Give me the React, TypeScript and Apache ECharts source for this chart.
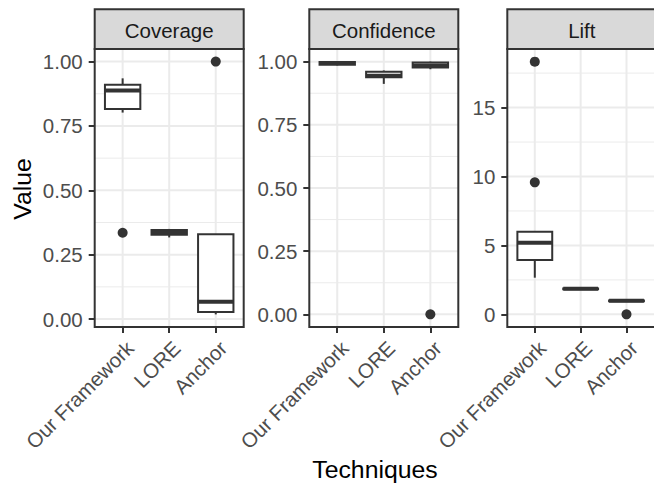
import React, { useEffect, useRef } from "react";
import * as echarts from "echarts";

const techniques = ["Our Framework", "LORE", "Anchor"];
const metrics = ["Coverage", "Confidence", "Lift"];

// Each box: [lowerWhisker, Q1, median, Q3, upperWhisker], one per technique
const coverageBoxes = [
  [0.802, 0.816, 0.888, 0.91, 0.935],
  [0.317, 0.327, 0.336, 0.346, 0.35],
  [0.018, 0.027, 0.067, 0.329, 0.329],
];
const coverageOutliers = [
  [0, 0.335],
  [2, 1.0],
];
const confidenceBoxes = [
  [0.985, 0.988, 0.995, 0.999, 1.0],
  [0.912, 0.938, 0.944, 0.96, 0.965],
  [0.97, 0.977, 0.985, 0.997, 1.0],
];
const confidenceOutliers = [[2, 0]];
const liftBoxes = [
  [2.66, 3.95, 5.2, 6.0, 6.0],
  [1.82, 1.83, 1.85, 1.87, 1.88],
  [0.96, 0.96, 0.98, 1.0, 1.0],
];
const liftOutliers = [
  [0, 9.58],
  [0, 18.33],
  [2, 0],
];

const coverageTicks = [0, 0.25, 0.5, 0.75, 1];
const coverageMinor = [0.125, 0.375, 0.625, 0.875];
const confidenceTicks = [0, 0.25, 0.5, 0.75, 1];
const confidenceMinor = [0.125, 0.375, 0.625, 0.875];
const liftTicks = [0, 5, 10, 15];
const liftMinor = [2.5, 7.5, 12.5, 17.5];
const coverageRange = [-0.031, 1.049];
const confidenceRange = [-0.05, 1.05];
const liftRange = [-0.917, 19.25];
const xRange = [-0.6, 2.6];
const xTicks = [0, 1, 2];

const panelsData = [
  { boxes: coverageBoxes, outliers: coverageOutliers, ticks: coverageTicks, minor: coverageMinor, range: coverageRange, fmt: (v: number) => v.toFixed(2) },
  { boxes: confidenceBoxes, outliers: confidenceOutliers, ticks: confidenceTicks, minor: confidenceMinor, range: confidenceRange, fmt: (v: number) => v.toFixed(2) },
  { boxes: liftBoxes, outliers: liftOutliers, ticks: liftTicks, minor: liftMinor, range: liftRange, fmt: (v: number) => String(v) },
];

// layout
const PANEL_LEFTS = [94.7, 309.3, 507.3];
const PANEL_W = 149;
const PANEL_TOP = 49;
const PANEL_H = 278;
const STRIP_TOP = 9.3;
const FONT = "'Liberation Sans', Arial, Helvetica, sans-serif";
const DARK = "#333333";
const GRIDC = "#EBEBEB";
const BOX_WIDTH = 0.76;
const TICK_FS = 20.5;
const TITLE_FS = 24.8;

export default function App() {
  const ref = useRef<HTMLDivElement>(null);
  useEffect(() => {
    if (!ref.current) return;
    const chart = echarts.init(ref.current, null, { renderer: "svg" });

    const grids: any[] = [];
    const xAxes: any[] = [];
    const yAxes: any[] = [];
    const series: any[] = [];
    const graphics: any[] = [];

    panelsData.forEach((p, i) => {
      grids.push({
        left: PANEL_LEFTS[i],
        top: PANEL_TOP,
        width: PANEL_W,
        height: PANEL_H,
        show: false,
        containLabel: false,
      });
      xAxes.push({
        type: "value",
        gridIndex: i,
        position: "bottom",
        min: xRange[0],
        max: xRange[1],
        axisLine: { show: false, onZero: false },
        splitLine: { show: false },
        axisTick: {
          show: true,
          customValues: xTicks,
          length: 6,
          lineStyle: { color: DARK, width: 2 },
        },
        axisLabel: {
          show: true,
          customValues: xTicks,
          rotate: 45,
          margin: 10,
          align: "right",
          verticalAlign: "top",
          fontSize: TICK_FS,
          fontFamily: FONT,
          color: "#4D4D4D",
          formatter: (v: number) => techniques[Math.round(v)] ?? "",
        },
      });
      yAxes.push({
        type: "value",
        gridIndex: i,
        position: "left",
        min: p.range[0],
        max: p.range[1],
        axisLine: { show: false, onZero: false },
        splitLine: { show: false },
        axisTick: {
          show: true,
          customValues: p.ticks,
          length: 6,
          lineStyle: { color: DARK, width: 2 },
        },
        axisLabel: {
          show: true,
          customValues: p.ticks,
          margin: 12,
          fontSize: TICK_FS,
          fontFamily: FONT,
          color: "#4D4D4D",
          formatter: (v: number) => p.fmt(v),
        },
      });

      // horizontal grid lines
      const hLines = [
        ...p.minor.map((v) => [0, v, 0]),
        ...p.ticks.map((v) => [0, v, 1]),
      ];
      series.push({
        type: "custom",
        xAxisIndex: i,
        yAxisIndex: i,
        z: 1,
        silent: true,
        data: hLines,
        renderItem: (params: any, api: any) => {
          const cs = params.coordSys;
          const y = api.coord([0, api.value(1)])[1];
          const major = api.value(2) === 1;
          return {
            type: "line",
            shape: { x1: cs.x, y1: y, x2: cs.x + cs.width, y2: y },
            style: { stroke: GRIDC, lineWidth: major ? 2 : 1 },
          };
        },
      });
      // vertical grid lines
      series.push({
        type: "custom",
        xAxisIndex: i,
        yAxisIndex: i,
        z: 1,
        silent: true,
        data: xTicks.map((v) => [v, 0]),
        renderItem: (params: any, api: any) => {
          const cs = params.coordSys;
          const x = api.coord([api.value(0), 0])[0];
          return {
            type: "line",
            shape: { x1: x, y1: cs.y, x2: x, y2: cs.y + cs.height },
            style: { stroke: GRIDC, lineWidth: 2 },
          };
        },
      });
      // boxes
      series.push({
        type: "custom",
        xAxisIndex: i,
        yAxisIndex: i,
        z: 3,
        data: p.boxes.map((b, k) => [k, ...b]),
        encode: { x: 0, y: [1, 2, 3, 4, 5] },
        renderItem: (params: any, api: any) => {
          const x = api.value(0);
          const lo = api.coord([x, api.value(1)]);
          const q1 = api.coord([x, api.value(2)]);
          const med = api.coord([x, api.value(3)]);
          const q3 = api.coord([x, api.value(4)]);
          const hi = api.coord([x, api.value(5)]);
          const half = api.size([BOX_WIDTH, 0])[0] / 2;
          const cx = q1[0];
          const st = { stroke: DARK, lineWidth: 2, fill: null };
          return {
            type: "group",
            children: [
              { type: "line", shape: { x1: cx, y1: lo[1], x2: cx, y2: q1[1] }, style: st },
              { type: "line", shape: { x1: cx, y1: q3[1], x2: cx, y2: hi[1] }, style: st },
              {
                type: "rect",
                shape: { x: cx - half, y: q3[1], width: 2 * half, height: q1[1] - q3[1] },
                style: { fill: "#ffffff", stroke: DARK, lineWidth: 2 },
              },
              {
                type: "line",
                shape: { x1: cx - half, y1: med[1], x2: cx + half, y2: med[1] },
                style: { stroke: DARK, lineWidth: 4 },
              },
            ],
          };
        },
      });
      // outliers
      series.push({
        type: "scatter",
        xAxisIndex: i,
        yAxisIndex: i,
        z: 4,
        symbol: "circle",
        symbolSize: 10,
        itemStyle: { color: DARK, opacity: 1 },
        data: p.outliers,
      });

      // strip
      graphics.push({
        type: "rect",
        z: 100,
        shape: { x: PANEL_LEFTS[i], y: STRIP_TOP, width: PANEL_W, height: PANEL_TOP - STRIP_TOP },
        style: { fill: "#D9D9D9", stroke: DARK, lineWidth: 2 },
      });
      graphics.push({
        type: "text",
        z: 101,
        x: PANEL_LEFTS[i] + PANEL_W / 2,
        y: (STRIP_TOP + PANEL_TOP) / 2 + 1,
        style: {
          text: metrics[i],
          fontSize: TICK_FS,
          fontFamily: FONT,
          fill: "#1A1A1A",
          align: "center",
          verticalAlign: "middle",
        },
      });
      // panel border
      graphics.push({
        type: "rect",
        z: 100,
        shape: { x: PANEL_LEFTS[i], y: PANEL_TOP, width: PANEL_W, height: PANEL_H },
        style: { fill: null, stroke: DARK, lineWidth: 2 },
      });
    });

    graphics.push({
      type: "text",
      z: 101,
      x: 22,
      y: 189,
      rotation: Math.PI / 2,
      style: {
        text: "Value",
        fontSize: TITLE_FS,
        fontFamily: FONT,
        fill: "#000000",
        align: "center",
        verticalAlign: "middle",
      },
    });
    graphics.push({
      type: "text",
      z: 101,
      x: 375,
      y: 469,
      style: {
        text: "Techniques",
        fontSize: TITLE_FS,
        fontFamily: FONT,
        fill: "#000000",
        align: "center",
        verticalAlign: "middle",
      },
    });

    chart.setOption({
      animation: false,
      backgroundColor: "#ffffff",
      grid: grids,
      xAxis: xAxes,
      yAxis: yAxes,
      series,
      graphic: graphics,
    });
    return () => chart.dispose();
  }, []);

  return (
    <div
      ref={ref}
      style={{ position: "absolute", left: 0, top: 0, width: 654, height: 483 }}
    />
  );
}
